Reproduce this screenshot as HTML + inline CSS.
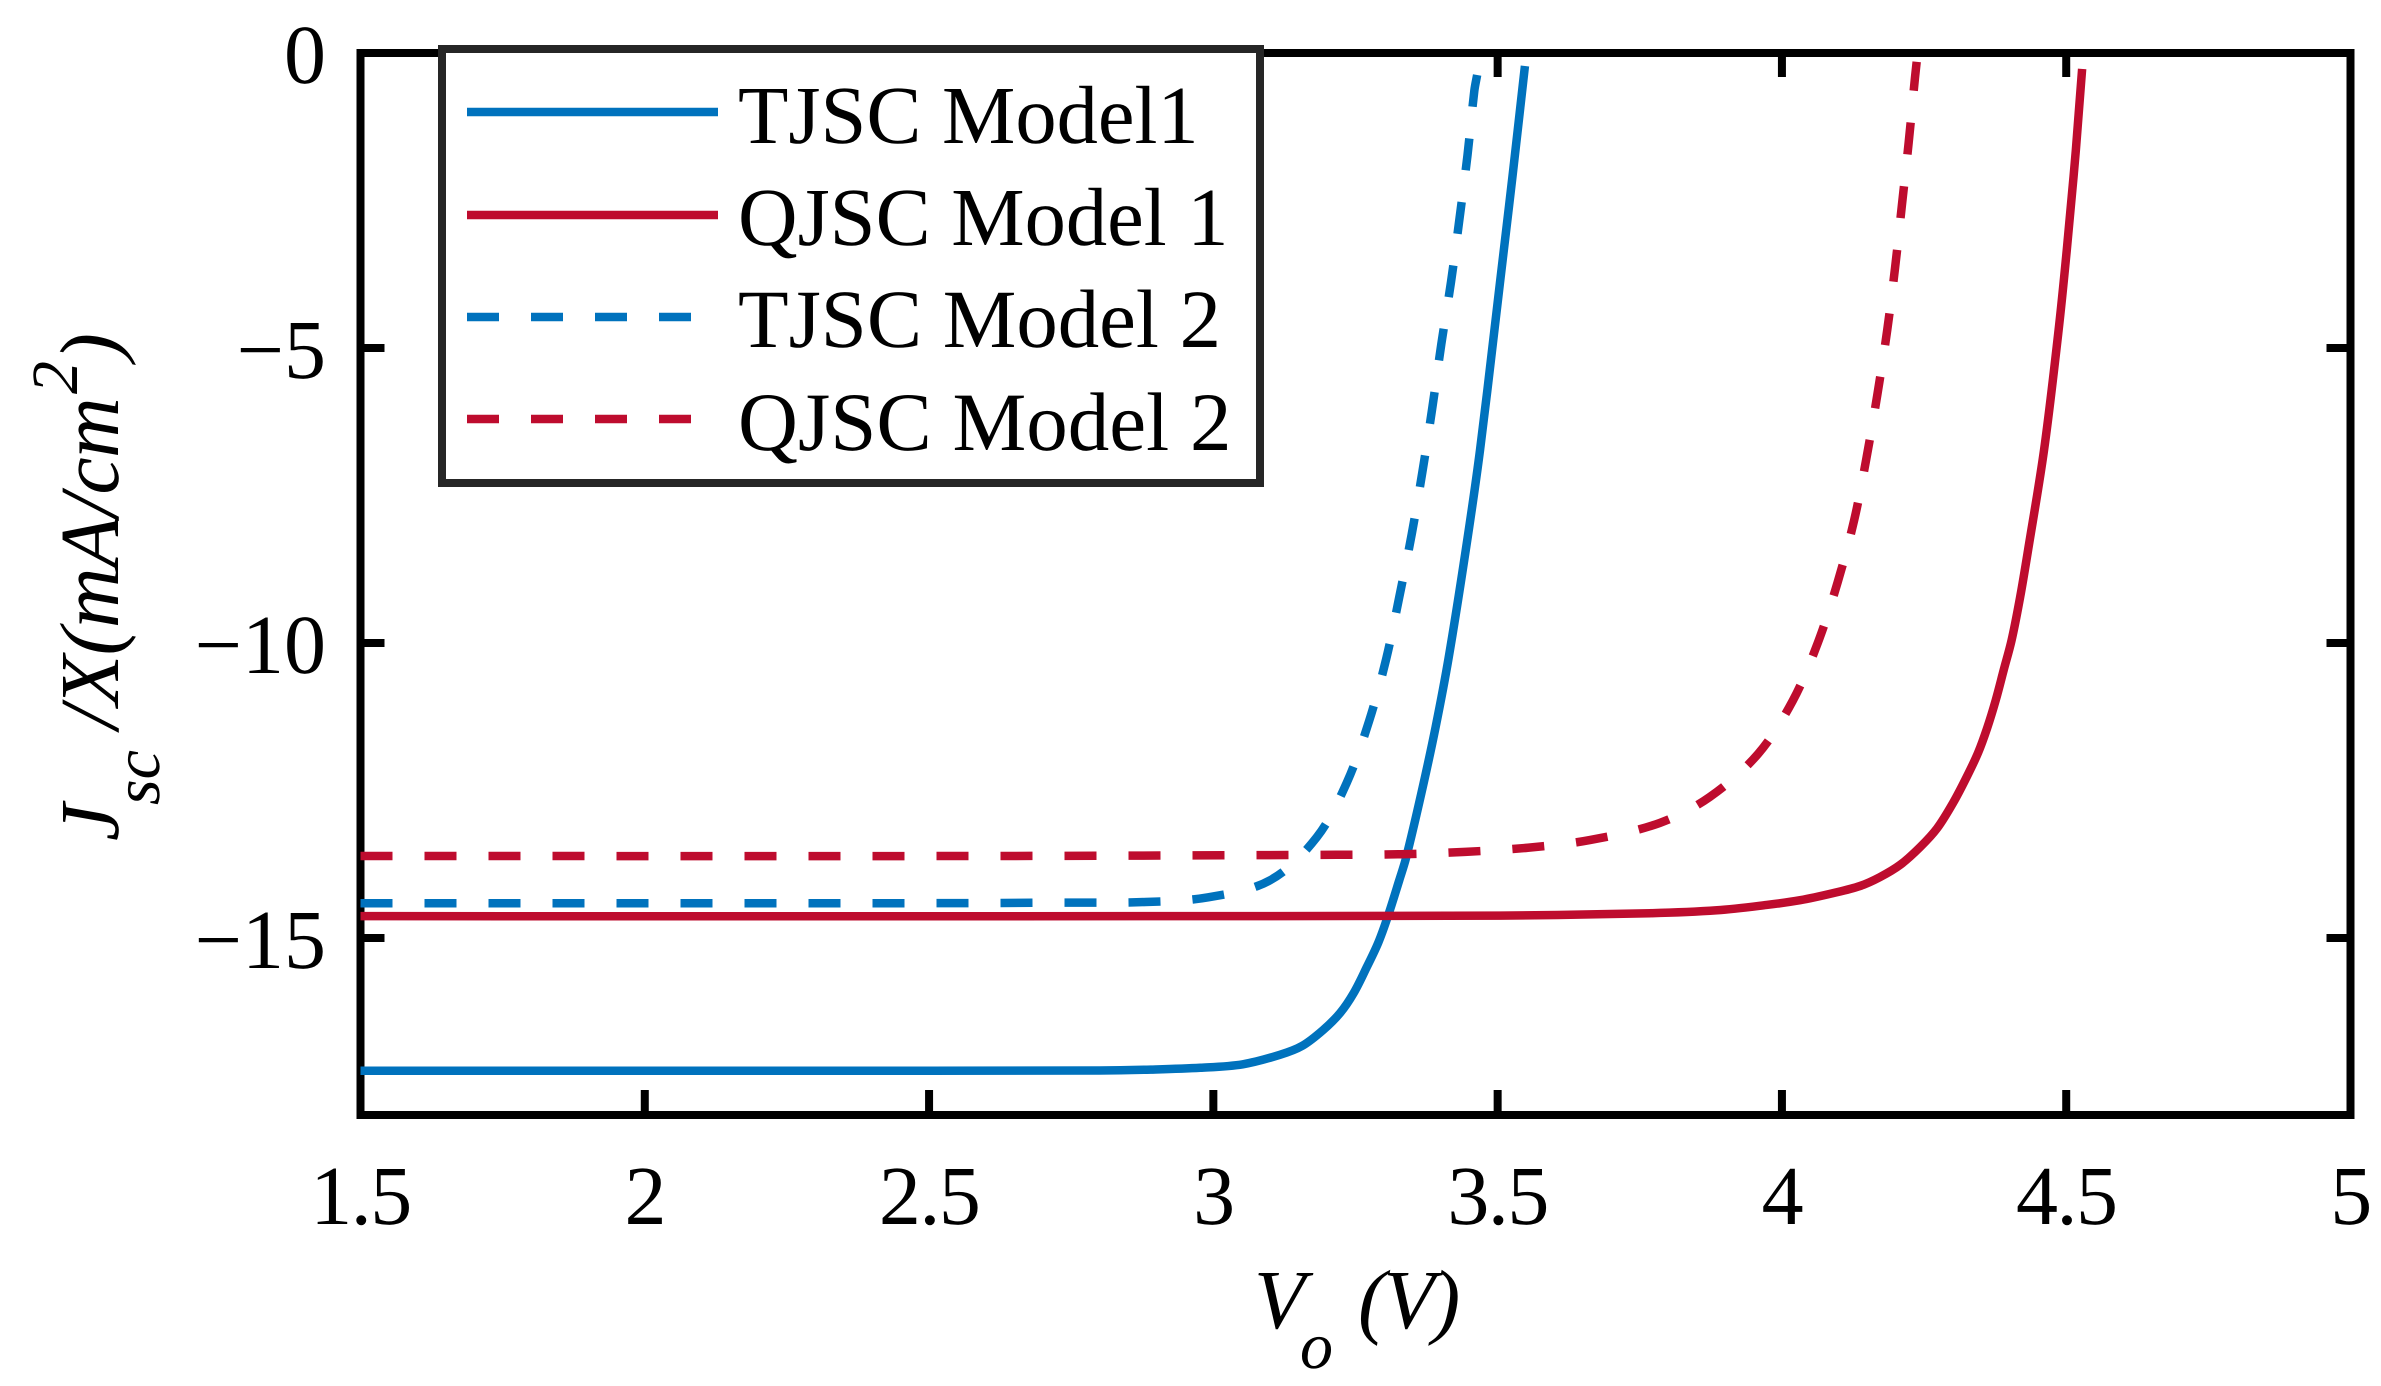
<!DOCTYPE html>
<html lang="en">
<head>
<meta charset="utf-8">
<title>Jsc vs Vo chart</title>
<style>
html,body{margin:0;padding:0;background:#fff;width:2381px;height:1386px;overflow:hidden}
svg{display:block}
text{font-family:"Liberation Serif","Times New Roman",serif;fill:#000;text-rendering:geometricPrecision}
</style>
</head>
<body>
<svg id="chart" xmlns="http://www.w3.org/2000/svg" width="2381" height="1386" viewBox="0 0 2381 1386">
  <rect x="0" y="0" width="2381" height="1386" fill="#fff"/>
  <g id="axes"></g>
  <g id="series"></g>

  <g font-style="italic">
    <text x="1254" y="1328" font-size="84">V</text>
    <text x="1300" y="1368" font-size="66">o</text>
    <text x="1358" y="1328" font-size="84" letter-spacing="-2.5">(V)</text>
  </g>

  <g font-style="italic">
    <text transform="translate(118,841) rotate(-90)" font-size="84">J</text>
    <text transform="translate(159,805) rotate(-90)" font-size="66">sc</text>
    <text transform="translate(118,729) rotate(-90)" font-size="84" letter-spacing="-0.6">/X(mA/cm</text>
    <text transform="translate(77,394) rotate(-90)" font-size="66">2</text>
    <text transform="translate(118,361) rotate(-90)" font-size="84">)</text>
  </g>

  <g>
    <rect x="442" y="49" width="818" height="434" fill="#fff" stroke="#262626" stroke-width="8"/>
    <g>
      <line x1="467" x2="718" y1="112" y2="112" stroke="#0072BD" stroke-width="8.5"/>
      <text x="738" y="143" font-size="82.5">TJSC Model1</text>
    </g>
    <g>
      <line x1="467" x2="718" y1="215" y2="215" stroke="#BE0C2E" stroke-width="8.5"/>
      <text x="738" y="245" font-size="82.5">QJSC Model 1</text>
    </g>
    <g>
      <line x1="467" x2="692" y1="317" y2="317" stroke="#0072BD" stroke-width="8.5" stroke-dasharray="32 32"/>
      <text x="738" y="347" font-size="82.8">TJSC Model 2</text>
    </g>
    <g>
      <line x1="467" x2="692" y1="419" y2="419" stroke="#BE0C2E" stroke-width="8.5" stroke-dasharray="32 32"/>
      <text x="738" y="450" font-size="83">QJSC Model 2</text>
    </g>
  </g>
</svg>
<script>
const xTicks = [1.5, 2, 2.5, 3, 3.5, 4, 4.5, 5];
const xTickLabels = ["1.5", "2", "2.5", "3", "3.5", "4", "4.5", "5"];
const yTicks = [0, -5, -10, -15];
const yTickLabels = ["0", "\u22125", "\u221210", "\u221215"];

const tjsc1V = [1.5, 2.5, 2.80, 2.89, 2.977, 3.052, 3.117, 3.156, 3.193, 3.223, 3.247, 3.270, 3.290, 3.307, 3.327, 3.339, 3.366, 3.391, 3.414, 3.444, 3.469, 3.504, 3.526, 3.548];
const tjsc1J = [-17.25, -17.25, -17.245, -17.23, -17.20, -17.14, -16.98, -16.83, -16.56, -16.27, -15.93, -15.49, -15.08, -14.63, -14.02, -13.64, -12.54, -11.42, -10.24, -8.42, -6.73, -3.90, -2.10, -0.22];

const qjsc1V = [1.5, 3.0, 3.504, 3.768, 3.886, 3.973, 4.032, 4.090, 4.137, 4.172, 4.208, 4.243, 4.273, 4.301, 4.325, 4.345, 4.361, 4.376, 4.390, 4.404, 4.419, 4.433, 4.461, 4.486, 4.501, 4.517, 4.528];
const qjsc1J = [-14.63, -14.63, -14.62, -14.58, -14.53, -14.44, -14.36, -14.24, -14.12, -13.97, -13.76, -13.46, -13.14, -12.71, -12.27, -11.86, -11.44, -10.97, -10.46, -9.95, -9.22, -8.42, -6.73, -4.75, -3.34, -1.64, -0.27];

const tjsc2V = [1.5, 2.5, 2.73, 2.880, 2.991, 3.100, 3.182, 3.235, 3.274, 3.304, 3.327, 3.349, 3.368, 3.385, 3.401, 3.418, 3.433, 3.447, 3.459, 3.464];
const tjsc2J = [-14.41, -14.41, -14.40, -14.39, -14.31, -14.02, -13.29, -12.36, -11.32, -10.27, -9.22, -8.15, -7.08, -6.02, -4.93, -3.88, -2.80, -1.73, -0.64, -0.37];

const qjsc2V = [1.5, 2.6, 3.217, 3.330, 3.443, 3.553, 3.662, 3.785, 3.873, 3.958, 4.019, 4.063, 4.098, 4.127, 4.148, 4.168, 4.185, 4.199, 4.211, 4.223, 4.234, 4.237];
const qjsc2J = [-13.61, -13.61, -13.59, -13.58, -13.54, -13.47, -13.34, -13.05, -12.61, -11.88, -10.98, -10.0, -8.97, -7.92, -6.90, -5.78, -4.71, -3.64, -2.58, -1.51, -0.42, -0.15];

const NS = 'http://www.w3.org/2000/svg';
const plotLeft = 360.5, plotRight = 2350.5, plotTop = 53, plotBottom = 1115;
const xMin = 1.5, xMax = 5, yMin = -18, yMax = 0;
function xScale(v) { return plotLeft + (v - xMin) / (xMax - xMin) * (plotRight - plotLeft); }
function yScale(j) { return plotTop + (yMax - j) / (yMax - yMin) * (plotBottom - plotTop); }

function make(tag, attrs, parent) {
  const el = document.createElementNS(NS, tag);
  for (const k in attrs) el.setAttribute(k, attrs[k]);
  parent.appendChild(el);
  return el;
}

const axes = document.getElementById('axes');
const frame = make('rect', {x: plotLeft, y: plotTop, width: plotRight - plotLeft, height: plotBottom - plotTop, fill: 'none', stroke: '#000', 'stroke-width': 8}, axes);



xTicks.forEach(function (t, i) {
  const px = xScale(t);
  const bottomTick = make('line', {x1: px, x2: px, y1: plotBottom, y2: plotBottom - 25, stroke: '#000', 'stroke-width': 8}, axes);
  
  
  const topTick = make('line', {x1: px, x2: px, y1: plotTop, y2: plotTop + 24, stroke: '#000', 'stroke-width': 8}, axes);
  
  
  const label = make('text', {x: px, y: 1224, 'font-size': 84, 'text-anchor': 'middle', 'letter-spacing': -1.5}, axes);
  
  
  label.textContent = xTickLabels[i];
});

yTicks.forEach(function (t, i) {
  const py = yScale(t);
  const leftTick = make('line', {x1: plotLeft, x2: plotLeft + 24, y1: py, y2: py, stroke: '#000', 'stroke-width': 8}, axes);
  
  
  const rightTick = make('line', {x1: plotRight, x2: plotRight - 24, y1: py, y2: py, stroke: '#000', 'stroke-width': 8}, axes);
  
  
  const label = make('text', {x: 326, y: py + 30, 'font-size': 84, 'text-anchor': 'end'}, axes);
  
  
  label.textContent = yTickLabels[i];
});

function curvePath(vs, js) {
  const pts = vs.map(function (v, i) { return [xScale(v), yScale(js[i])]; });
  let d = 'M' + pts[0][0].toFixed(2) + ' ' + pts[0][1].toFixed(2);
  for (let i = 0; i < pts.length - 1; i++) {
    const p0 = pts[Math.max(i - 1, 0)], p1 = pts[i], p2 = pts[i + 1], p3 = pts[Math.min(i + 2, pts.length - 1)];
    const len = Math.hypot(p2[0] - p1[0], p2[1] - p1[1]);
    const l1 = Math.hypot(p2[0] - p0[0], p2[1] - p0[1]) || 1;
    const l2 = Math.hypot(p3[0] - p1[0], p3[1] - p1[1]) || 1;
    const c1x = p1[0] + (p2[0] - p0[0]) / l1 * len / 3;
    const c1y = p1[1] + (p2[1] - p0[1]) / l1 * len / 3;
    const c2x = p2[0] - (p3[0] - p1[0]) / l2 * len / 3;
    const c2y = p2[1] - (p3[1] - p1[1]) / l2 * len / 3;
    d += 'C' + c1x.toFixed(2) + ' ' + c1y.toFixed(2) + ' ' + c2x.toFixed(2) + ' ' + c2y.toFixed(2) + ' ' + p2[0].toFixed(2) + ' ' + p2[1].toFixed(2);
  }
  return d;
}

const seriesGroup = document.getElementById('series');

const lineTjsc1 = make('path', {d: curvePath(tjsc1V, tjsc1J), fill: 'none', stroke: '#0072BD', 'stroke-width': 8.5}, seriesGroup);



const lineQjsc1 = make('path', {d: curvePath(qjsc1V, qjsc1J), fill: 'none', stroke: '#BE0C2E', 'stroke-width': 8.5}, seriesGroup);



const lineTjsc2 = make('path', {d: curvePath(tjsc2V, tjsc2J), fill: 'none', stroke: '#0072BD', 'stroke-width': 8.5, 'stroke-dasharray': '32 32'}, seriesGroup);



const lineQjsc2 = make('path', {d: curvePath(qjsc2V, qjsc2J), fill: 'none', stroke: '#BE0C2E', 'stroke-width': 8.5, 'stroke-dasharray': '32 32'}, seriesGroup);


</script>
</body>
</html>
